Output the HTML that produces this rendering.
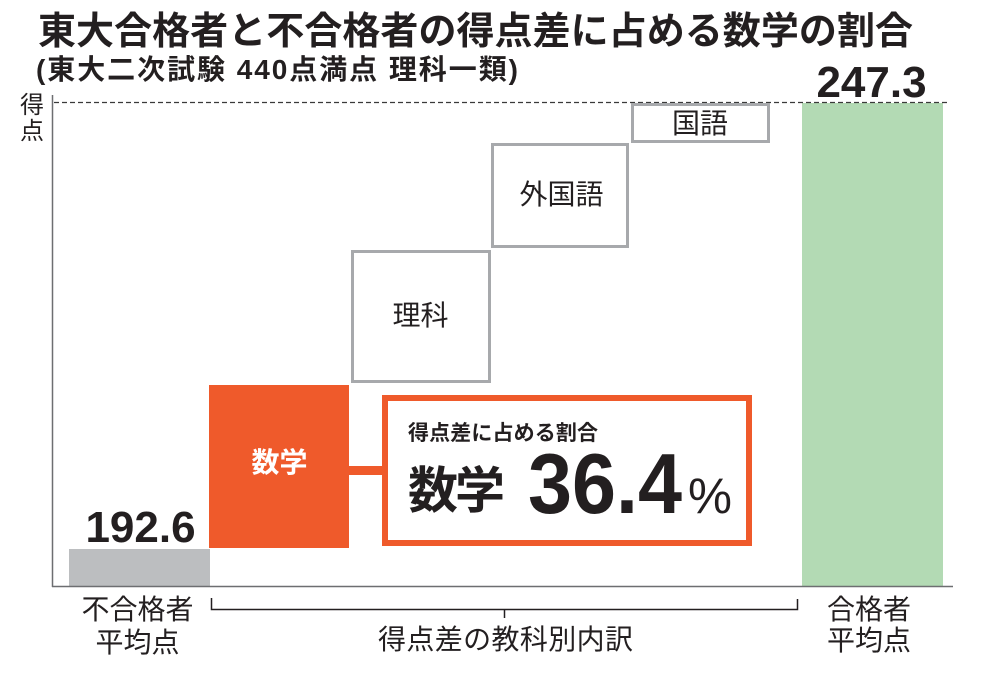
<!DOCTYPE html>
<html><head><meta charset="utf-8"><style>
html,body{margin:0;padding:0;background:#fff;}
svg{display:block;}
text{font-family:"Liberation Sans","Noto Sans CJK JP",sans-serif;fill:#231f20;}
</style></head><body>
<svg width="983" height="678" viewBox="0 0 983 678" xmlns="http://www.w3.org/2000/svg">
<rect width="983" height="678" fill="#fff"/>
<!-- title -->
<text x="38" y="44" font-size="38" font-weight="700" textLength="875">東大合格者と不合格者の得点差に占める数学の割合</text>
<text x="36" y="79" font-size="28" font-weight="700" textLength="482">(東大二次試験 440点満点 理科一類)</text>
<!-- y label -->
<text x="32" y="113" font-size="24" text-anchor="middle">得</text>
<text x="32" y="139" font-size="24" text-anchor="middle">点</text>
<!-- bars -->
<rect x="802" y="103" width="141" height="483" fill="#b3dab4"/>
<rect x="69" y="549" width="141" height="37" fill="#bcbec0"/>
<rect x="209" y="385" width="140" height="163" fill="#ef5a2b"/>
<rect x="349" y="466" width="34" height="9" fill="#ef5a2b"/>
<!-- dashed line -->
<line x1="54" y1="102.5" x2="948" y2="102.5" stroke="#3a3a3a" stroke-width="1.3" stroke-dasharray="5,3"/>
<!-- boxes -->
<rect x="632.5" y="104.5" width="136" height="37" fill="#fff" stroke="#a7a9ac" stroke-width="3"/>
<rect x="492.5" y="144.5" width="135" height="102" fill="#fff" stroke="#a7a9ac" stroke-width="3"/>
<rect x="352.5" y="251.5" width="137" height="130" fill="#fff" stroke="#a7a9ac" stroke-width="3"/>
<text x="700" y="133" font-size="28" text-anchor="middle">国語</text>
<text x="561.5" y="204" font-size="28" text-anchor="middle">外国語</text>
<text x="420.5" y="325" font-size="28" text-anchor="middle">理科</text>
<!-- callout -->
<rect x="385" y="398" width="364" height="145" fill="#fff" stroke="#ef5a2b" stroke-width="6"/>
<text x="408" y="440" font-size="21" font-weight="700" textLength="190">得点差に占める割合</text>
<text x="408" y="508" font-size="50" font-weight="700" textLength="97">数学</text>
<text x="528" y="513" font-size="85" font-weight="700" textLength="154" lengthAdjust="spacingAndGlyphs">36.4</text>
<text x="688" y="513" font-size="50" textLength="44" lengthAdjust="spacingAndGlyphs">%</text>
<!-- bar labels -->
<text x="279.5" y="472" font-size="28" font-weight="700" text-anchor="middle" style="fill:#fff">数学</text>
<text x="140.5" y="542" font-size="44" font-weight="700" text-anchor="middle">192.6</text>
<text x="871.5" y="97" font-size="44" font-weight="700" text-anchor="middle">247.3</text>
<!-- axes -->
<line x1="52.5" y1="95" x2="52.5" y2="587" stroke="#6d6e71" stroke-width="1.5"/>
<line x1="52" y1="586.5" x2="953" y2="586.5" stroke="#6d6e71" stroke-width="1.5"/>
<!-- bracket -->
<path d="M211.5,598 V609.5 H797.5 V599" fill="none" stroke="#231f20" stroke-width="1.5"/>
<line x1="504.5" y1="609.5" x2="504.5" y2="618" stroke="#231f20" stroke-width="1.5"/>
<!-- bottom labels -->
<text x="137.5" y="619" font-size="28" text-anchor="middle">不合格者</text>
<text x="137.5" y="652" font-size="28" text-anchor="middle">平均点</text>
<text x="869" y="619" font-size="28" text-anchor="middle">合格者</text>
<text x="869" y="650" font-size="28" text-anchor="middle">平均点</text>
<text x="378" y="649" font-size="28" textLength="255">得点差の教科別内訳</text>
</svg>
</body></html>
